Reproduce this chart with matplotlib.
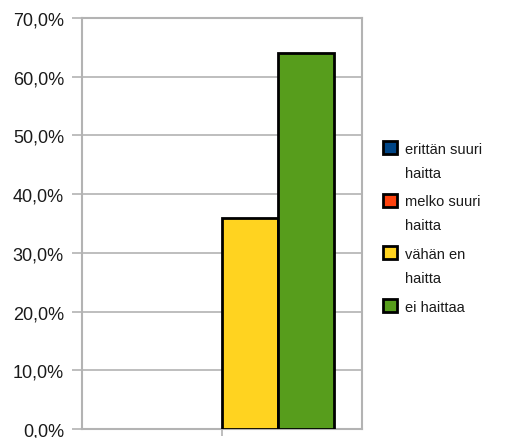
import matplotlib
matplotlib.use("Agg")
import matplotlib.pyplot as plt
from matplotlib.patches import Rectangle

# data
series = ["erittän suuri\nhaitta", "melko suuri\nhaitta", "vähän en\nhaitta", "ei haittaa"]
values = [0.0, 0.0, 36.0, 64.0]
colors = ["#004586", "#ff420e", "#ffd320", "#579d1c"]
yticks = [0, 10, 20, 30, 40, 50, 60, 70]
ylabels = ["0,0%", "10,0%", "20,0%", "30,0%", "40,0%", "50,0%", "60,0%", "70,0%"]

plt.rcParams["font.family"] = ["Liberation Sans", "DejaVu Sans"]

W, H = 513, 439
fig = plt.figure(figsize=(W / 100, H / 100), dpi=100)
ax = fig.add_axes([82 / W, 1 - 430 / H, 280 / W, 411 / H])

width = 0.2
offsets = [-0.3, -0.1, 0.1, 0.3]
for v, c, off in zip(values, colors, offsets):
    ax.bar(off, v, width, color=c, edgecolor="black",
           linewidth=2 if v > 0 else 0, zorder=3)

ax.set_xlim(-0.5, 0.5)
ax.set_ylim(0, 70)
ax.set_yticks(yticks)
ax.set_yticklabels(ylabels, fontsize=13, color="#1a1a1a")
ax.set_xticks([0])
ax.set_xticklabels([""])
ax.yaxis.grid(True, color="#b3b3b3", linewidth=1.2, zorder=0)
ax.tick_params(axis="y", length=7, width=1.2, color="#b3b3b3", pad=6)
ax.tick_params(axis="x", length=5, width=1.2, color="#b3b3b3")
for s in ax.spines.values():
    s.set_color("#b3b3b3")
    s.set_linewidth(1.5)

# legend drawn by hand so the square sits at the first text line
step = 52.5
for i, (lab, c) in enumerate(zip(series, colors)):
    top = 142 + step * i
    fig.patches.append(Rectangle((383 / W, 1 - (top + 13) / H), 14 / W, 13 / H,
                                 facecolor=c, edgecolor="black", linewidth=2,
                                 transform=fig.transFigure, figure=fig))
    for j, line in enumerate(lab.split("\n")):
        fig.text(405 / W, 1 - (top + 12 + 24 * j) / H, line, fontsize=10.5,
                 color="#1a1a1a", va="baseline", ha="left")

fig.savefig("out.png", dpi=100)
